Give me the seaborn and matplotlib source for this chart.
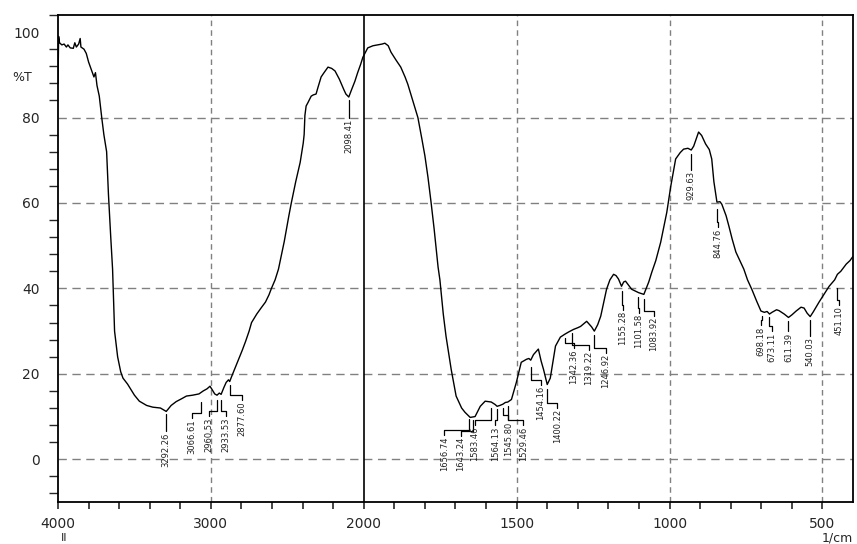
import numpy as np
import seaborn as sns
import matplotlib.pyplot as plt
from matplotlib.ticker import FixedLocator, MultipleLocator

# spectrum (wavenumber 1/cm, %T)
wavenumber = [4000, 3996, 3990, 3975, 3960, 3945, 3935, 3920, 3900, 3890, 3880, 3865, 3855, 3850,
              3830, 3815, 3800, 3780, 3765, 3755, 3745, 3730, 3714, 3700, 3682, 3670, 3655, 3643,
              3630, 3610, 3590, 3575, 3545, 3500, 3468, 3420, 3380, 3330, 3292, 3260, 3227, 3190,
              3160, 3120, 3078, 3050, 3025, 3006, 2990, 2975, 2960, 2945, 2933, 2915, 2900, 2885,
              2877, 2864, 2840, 2818, 2795, 2773, 2750, 2734, 2700, 2670, 2643, 2620, 2604, 2580,
              2558, 2520, 2490, 2474, 2445, 2416, 2396, 2390, 2385, 2377, 2365, 2344, 2330, 2312,
              2300, 2279, 2260, 2234, 2210, 2188, 2160, 2130, 2117, 2098, 2080, 2058, 2040, 2020,
              2006, 1987, 1970, 1954, 1940, 1931, 1920, 1911, 1895, 1879, 1865, 1856, 1840, 1823,
              1810, 1800, 1790, 1780, 1770, 1757, 1751, 1740, 1731, 1714, 1698, 1680, 1669, 1658,
              1652, 1643, 1636, 1619, 1603, 1583, 1570, 1564, 1555, 1545, 1537, 1529, 1517, 1501,
              1485, 1468, 1460, 1454, 1445, 1429, 1420, 1412, 1400, 1390, 1373, 1357, 1342, 1330,
              1314, 1300, 1291, 1271, 1255, 1246, 1235, 1225, 1206, 1195, 1183, 1175, 1167, 1157,
              1150, 1144, 1124, 1101, 1084, 1068, 1058, 1045, 1029, 1009, 996, 980, 965, 954, 940,
              929, 921, 905, 895, 882, 870, 862, 855, 845, 835, 829, 815, 806, 795, 783, 770, 757,
              745, 731, 715, 701, 690, 681, 673, 665, 650, 642, 625, 611, 600, 586, 570, 560, 550,
              540, 530, 511, 495, 478, 460, 451, 440, 422, 410, 400]
transmittance = [88, 99, 97.5, 97, 97.2, 96.5, 97, 96.3, 96.2, 97.5, 96.5, 97.2, 98.5, 96.5,
                 96, 95, 93, 91, 89.5, 90.5, 87.5, 85, 80, 76, 72, 62, 52, 44.5,
                 30, 24, 20.5, 19, 17.6, 15, 13.6, 12.6, 12.2, 12, 11.2, 12.6, 13.5, 14.2,
                 14.8, 15, 15.3, 16, 16.5, 17.1, 16.2, 15.3, 15.0, 15.5, 15.2, 16.8, 18, 18.6,
                 18.2, 19.4, 21.5, 23.4, 25.5, 27.6, 30, 32, 34, 35.5, 36.8, 38.5, 40, 42,
                 44.5, 51, 57, 60, 65, 69.5, 74, 76, 80.5, 82.7, 83.5, 85, 85.3, 85.5,
                 87, 89.5, 90.5, 91.8, 91.5, 90.9, 89, 86.5, 85.5, 84.8, 86.5, 88.5, 90.5, 92.5,
                 94.1, 96.3, 96.8, 97, 97.2, 97.4, 96.8, 95.3, 93.5, 91.8, 89.5, 87.8, 84, 80,
                 75, 71, 66, 60.2, 54, 45, 42, 34, 28.8, 21, 14.8, 12, 11, 10.2,
                 9.8, 9.9, 10, 12.4, 13.6, 13.4, 12.8, 12.4, 12.6, 12.9, 13.3, 13.4, 14, 18,
                 22.7, 23.4, 23.6, 23.2, 24.5, 25.8, 23, 21, 17.5, 19, 26.5, 28.6, 29.3, 29.8,
                 30.4, 30.8, 31.1, 32.3, 31, 30, 31.5, 33.5, 39.8, 42, 43.3, 43, 42.2, 40.5,
                 41.5, 41.7, 39.8, 39.0, 38.6, 41.5, 43.8, 46.5, 50.8, 57.8, 63.9, 70.3, 71.8, 72.6, 72.8,
                 72.4, 73.3, 76.6, 75.8, 73.8, 72.5, 70.3, 65, 60.2, 60.3, 59.7, 57, 54.6, 51.5, 48.5, 46.5, 44.5,
                 42, 39.8, 37, 34.7, 34.4, 34.6, 34.0, 34.4, 35, 34.8, 34, 33.2, 33.8, 34.7, 35.6, 35.4, 34.2,
                 33.4, 34.5, 36.8, 38.6, 40.5, 42, 43.3, 44, 45.7, 46.5, 47.5]

# peak labels: peak position, text, text x position, leader top, text top (%T)
peak_wn = [3292.26, 3066.61, 2960.53, 2933.53, 2877.60, 2098.41, 1656.74, 1643.24, 1583.46,
           1564.13, 1545.80, 1529.46, 1454.16, 1400.22, 1342.36, 1319.22, 1246.92, 1155.28,
           1101.58, 1083.92, 929.63, 844.76, 698.18, 673.11, 611.39, 540.03, 451.10]
peak_text = ["3292.26", "3066.61", "2960.53", "2933.53", "2877.60", "2098.41", "1656.74",
             "1643.24", "1583.46", "1564.13", "1545.80", "1529.46", "1454.16", "1400.22",
             "1342.36", "1319.22", "1246.92", "1155.28", "1101.58", "1083.92", "929.63",
             "844.76", "698.18", "673.11", "611.39", "540.03", "451.10"]
label_wn = [3292, 3123, 3013, 2903, 2799, 2098, 1737, 1682, 1636, 1570, 1527, 1478, 1422, 1367,
            1314, 1265, 1209, 1153, 1101, 1052, 929, 843, 701, 665, 611, 540, 445]
leader_top = [10.5, 13.5, 13.8, 13.8, 17.5, 84, 9.5, 9.3, 12.0, 11.8, 12.0, 12.5, 21.5, 16.5,
              28.3, 29.5, 29, 39.5, 38, 37.5, 71.4, 58.5, 33.5, 33.3, 32.3, 32.6, 40]
label_top = [6.3, 9.4, 9.8, 9.8, 13.5, 79.6, 5.4, 5.2, 7.7, 7.7, 8.9, 7.7, 17.1, 11.7,
             25.8, 25.3, 24.6, 34.7, 34, 33.3, 67.4, 54, 31.1, 29.7, 29.7, 28.6, 35.8]


def fwd(x):
    x = np.asarray(x, dtype=float)
    return np.where(x > 2000, 2000 + (x - 2000) / 2, x)


def inv(u):
    u = np.asarray(u, dtype=float)
    return np.where(u > 2000, 2000 + (u - 2000) * 2, u)


sns.set_style('white')
plt.rcParams['font.family'] = ['DejaVu Sans']

fig = plt.figure(figsize=(8.57, 5.44), dpi=100)
ax = fig.add_axes([58 / 857, 1 - 502 / 544, 795 / 857, 487 / 544])
ax.set_xscale('function', functions=(fwd, inv))

for y in [0, 20, 40, 60, 80]:
    ax.axhline(y, color='#808080', lw=1, ls=(0, (6, 4)), zorder=1)
for x in [3000, 1500, 1000, 500]:
    ax.axvline(x, color='#808080', lw=1, ls=(0, (4, 3)), zorder=1)
ax.axvline(2000, color='black', lw=1.2, zorder=2)

sns.lineplot(x=wavenumber, y=transmittance, sort=False, estimator=None,
             color='black', lw=1.0, ax=ax, zorder=3)

for pw, txt, lw_, lt, tt in zip(peak_wn, peak_text, label_wn, leader_top, label_top):
    mid = tt + 1.5
    ax.plot([pw, pw, lw_, lw_], [lt, mid, mid, tt + 0.3], color='black', lw=0.9, zorder=3)
    ax.text(lw_, tt, txt, rotation=90, ha='center', va='top', fontsize=6, color='#222222')

ax.set_xlim(4000, 400)
ax.set_ylim(-10, 104)

ax.xaxis.set_major_locator(FixedLocator([4000, 3000, 2000, 1500, 1000, 500]))
minor_x = [v for v in range(3800, 2000, -200) if v != 3000] + \
          [v for v in range(1900, 400, -100) if v not in (1500, 1000, 500)]
ax.xaxis.set_minor_locator(FixedLocator(minor_x))
ax.set_xticklabels(['4000', '3000', '2000', '1500', '1000', '500'])
ax.yaxis.set_major_locator(FixedLocator([0, 20, 40, 60, 80, 100]))
ax.yaxis.set_minor_locator(MultipleLocator(4))
ax.set_yticklabels(['0', '20', '40', '60', '80', '100'])

ax.tick_params(axis='y', which='major', direction='out', length=12, width=1.2, pad=1, labelsize=10)
ax.tick_params(axis='y', which='minor', direction='out', length=6.5, width=1.0, left=True)
ax.tick_params(axis='x', which='both', direction='out', length=5, width=1.2, pad=6, labelsize=10,
               bottom=True)

for s in ax.spines.values():
    s.set_color('black')
    s.set_linewidth(1.3)

fig.text(12 / 857, 1 - 78 / 544, '%T', fontsize=9, va='center', ha='left')
fig.text(64 / 857, 1 - 538 / 544, 'II', fontsize=8, va='center', ha='center')
fig.text(853 / 857, 1 - 538 / 544, '1/cm', fontsize=9, va='center', ha='right')

fig.savefig('out.png', dpi=100)
